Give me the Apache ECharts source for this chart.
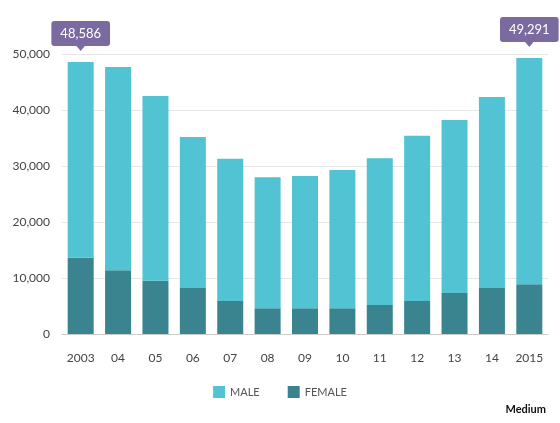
<!DOCTYPE html>
<html><head><meta charset="utf-8">
<script src="https://cdn.jsdelivr.net/npm/echarts@6/dist/echarts.min.js"></script>
<style>html,body{margin:0;background:#fff}#c{width:560px;height:423px}</style>
</head><body><div id="c"></div>
<script>
const years = ["2003","04","05","06","07","08","09","10","11","12","13","14","2015"];
const totals = [48586,47700,42500,35200,31300,28000,28200,29300,31400,35400,38200,42300,49291];
const female = [13600,11400,9500,8200,5900,4600,4600,4600,5200,5900,7300,8200,8900];
const male = totals.map((t, i) => t - female[i]);
const highlighted = [0, 12];

const chart = echarts.init(document.getElementById("c"));
const purple = "#7b6a9f";
chart.setOption({
  animation: false,
  textStyle: { fontFamily: "Lato" },
  grid: { left: 62, right: 12, top: 54, bottom: 89 },
  legend: {
    data: ["MALE", "FEMALE"],
    bottom: 20, itemWidth: 12, itemHeight: 12, itemGap: 28, icon: "rect",
    textStyle: { color: "#555", fontSize: 11 }
  },
  xAxis: {
    type: "category", data: years,
    axisLine: { lineStyle: { color: "#ccc" } }, axisTick: { show: false },
    axisLabel: { color: "#444", fontSize: 12, margin: 18 }
  },
  yAxis: {
    type: "value", min: 0, max: 50000, interval: 10000,
    axisLabel: { color: "#444", fontSize: 12, margin: 12,
      formatter: v => v.toLocaleString("en-US") },
    splitLine: { lineStyle: { color: "#e6e6e6" } }
  },
  series: [
    {
      name: "FEMALE", type: "bar", stack: "a", barWidth: 26,
      itemStyle: { color: "#3a848f" }, data: female
    },
    {
      name: "MALE", type: "bar", stack: "a", barWidth: 26, z: 3,
      itemStyle: { color: "#52c3d3" },
      data: male.map((v, i) => highlighted.includes(i) ? {
        value: v,
        label: {
          show: true, position: "top", distance: 16,
          formatter: () => totals[i].toLocaleString("en-US"),
          backgroundColor: purple, color: "#fff", fontSize: 13,
          padding: [6, 9], borderRadius: 3
        }
      } : v),
      markPoint: {
        symbol: "triangle", symbolSize: [10, 6], symbolRotate: 180,
        symbolOffset: [0, -14], itemStyle: { color: purple }, label: { show: false },
        data: highlighted.map(i => ({ coord: [years[i], totals[i]] }))
      }
    }
  ],
  graphic: [{
    type: "text", right: 14, bottom: 8,
    style: { text: "Medium", font: "bold 11px Lato", fill: "#111" }
  }]
});
</script></body></html>
